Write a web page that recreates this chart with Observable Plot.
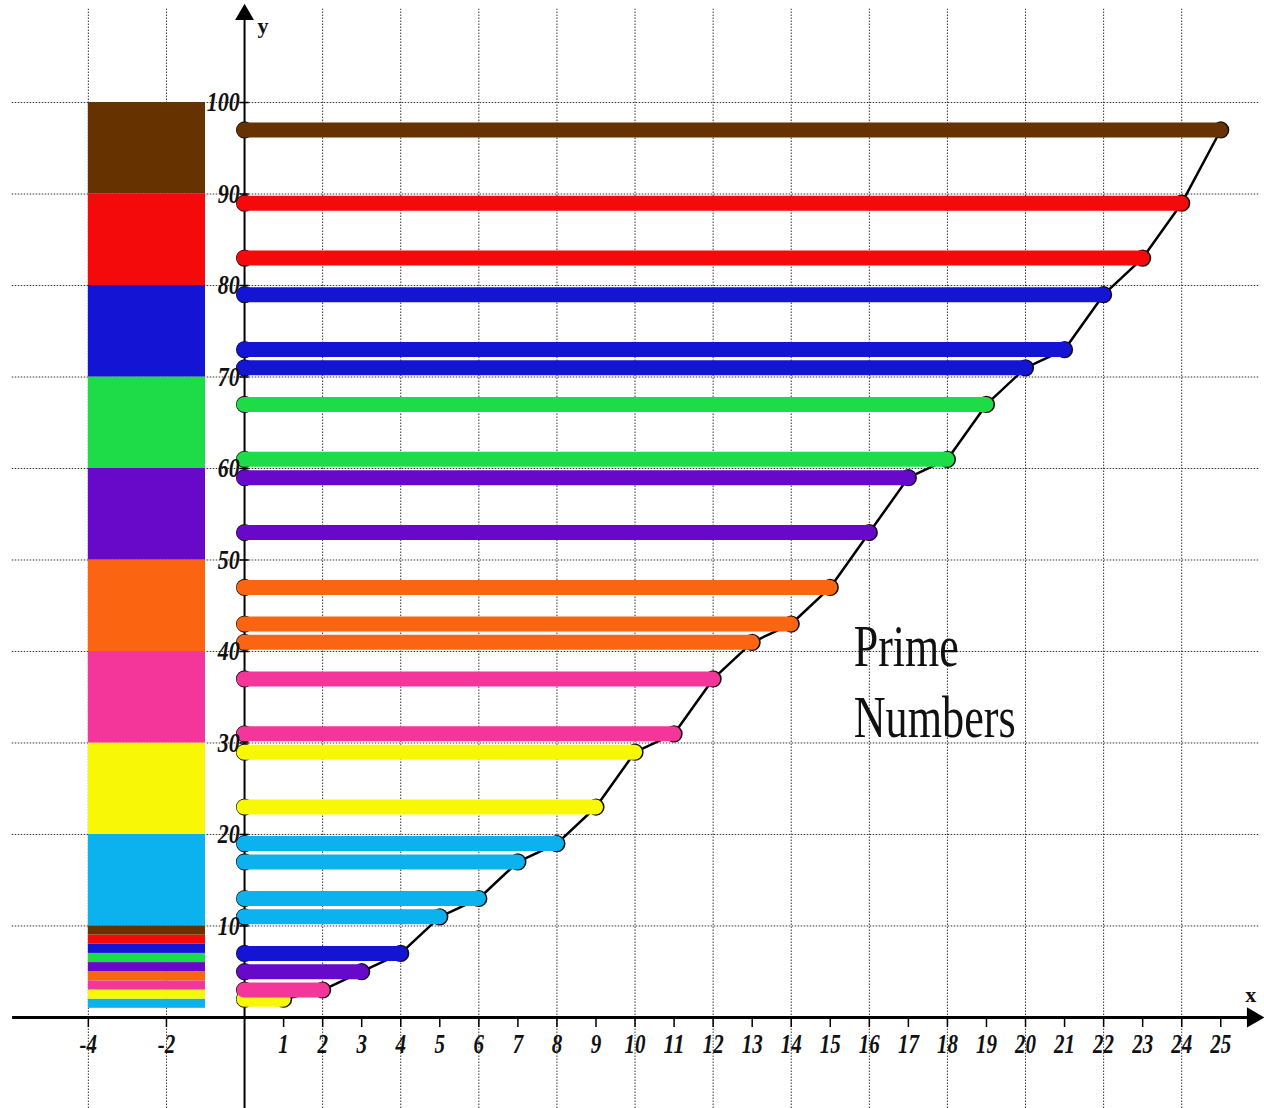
<!DOCTYPE html>
<html>
<head>
<meta charset="utf-8">
<script src="https://cdn.jsdelivr.net/npm/d3@7"></script>
<script src="https://cdn.jsdelivr.net/npm/@observablehq/plot@0.6"></script>
<style>
  html, body { margin: 0; padding: 0; background: #fff; }
</style>
</head>
<body>
<div id="chart"></div>
<script>
// ---- data ----
const primes = [2,3,5,7,11,13,17,19,23,29,31,37,41,43,47,53,59,61,67,71,73,79,83,89,97];
const ranks = primes.map((p, i) => i + 1);           // position on x
const paletteKeys = [1,2,3,4,5,6,7,8,9];              // colour groups
const palette = ["#0cb2ee","#f8f806","#f4369a","#fb6512","#6808c8","#1edc48","#1414d4","#f40a0a","#663300"];
const decades = [1,2,3,4,5,6,7,8,9];                  // legend blocks 10..100
const units = [1,2,3,4,5,6,7,8,9];                    // legend stripes 1..10
const xTickValues = [-4,-2,1,2,3,4,5,6,7,8,9,10,11,12,13,14,15,16,17,18,19,20,21,22,23,24,25];
const xGrid = [-4,-2,2,4,6,8,10,12,14,16,18,20,22,24];
const yTickValues = [10,20,30,40,50,60,70,80,90,100];
const title = ["Prime", "Numbers"];

const colorOf = k => palette[paletteKeys.indexOf(k)];
const data = primes.map((p, i) => ({n: ranks[i], p, c: colorOf(p < 10 ? p : Math.floor(p / 10))}));
const blocks = decades.map(d => ({y1: d * 10, y2: d * 10 + 10, c: colorOf(d)}));
const stripes = units.map(k => ({y1: k, y2: k + 1, c: colorOf(k)}));

const XMIN = -6.25, XMAX = 26.12, YMIN = -9.95, YMAX = 111.15;
const serif = "Liberation Serif, Times New Roman, serif";

const chart = Plot.plot({
  width: 1264,
  height: 1108,
  margin: 0,
  x: {domain: [XMIN, XMAX], axis: null},
  y: {domain: [YMIN, YMAX], axis: null},
  style: {background: "#fff"},
  marks: [
    // grid
    Plot.ruleY(yTickValues, {y: d => d, x1: -5.95, x2: 26.0, stroke: "#333", strokeWidth: 1, strokeDasharray: "1.5,1.5"}),
    Plot.ruleX(xGrid, {x: d => d, y1: YMIN, y2: 110.2, stroke: "#333", strokeWidth: 1, strokeDasharray: "1.5,1.5"}),
    // legend column
    Plot.rect(blocks, {x1: -4, x2: -1, y1: "y1", y2: "y2", fill: "c"}),
    Plot.rect(stripes, {x1: -4, x2: -1, y1: "y1", y2: "y2", fill: "c"}),
    // axes
    Plot.ruleY([0], {x1: -5.94, x2: 25.75, stroke: "#000", strokeWidth: 3}),
    Plot.ruleX([0], {y1: YMIN, y2: 109.3, stroke: "#000", strokeWidth: 2}),
    Plot.dot([0], {x: 25.82, y: 0, symbol: "triangle", rotate: 90, r: 7.5, fill: "#000"}),
    Plot.dot([0], {x: 0, y: 109.6, symbol: "triangle", r: 7, fill: "#000"}),
    Plot.ruleX(xTickValues, {x: d => d, y1: 0, y2: -1.1, stroke: "#000", strokeWidth: 1.5}),
    Plot.ruleY(yTickValues, {y: d => d, x1: -0.12, x2: 0.12, stroke: "#000", strokeWidth: 1.5}),
    // bars: dark-rimmed round ends, then the bar over them
    Plot.line(data, {x: "n", y: "p", stroke: "#000", strokeWidth: 2.5}),
    Plot.dot(data, {x: 0, y: "p", r: 7.6, fill: "c", stroke: "#111", strokeWidth: 2}),
    Plot.dot(data, {x: "n", y: "p", r: 7.6, fill: "c", stroke: "#111", strokeWidth: 2}),
    Plot.ruleY(data, {y: "p", x1: 0, x2: "n", stroke: "c", strokeWidth: 15, strokeLinecap: "round"}),
    // tick labels
    Plot.text(xTickValues, {x: d => d, y: -3.83, text: d => String(d), lineAnchor: "bottom", textAnchor: "middle",
      fontFamily: serif, fontStyle: "italic", fontWeight: "bold", fontSize: 28, fill: "#111"}),
    Plot.text(yTickValues, {x: -0.12, y: d => d, text: d => String(d), lineAnchor: "middle", textAnchor: "end",
      fontFamily: serif, fontStyle: "italic", fontWeight: "bold", fontSize: 27, fill: "#111"}),
    Plot.text(["x"], {x: 25.77, y: 2.5, text: d => d, fontFamily: serif, fontWeight: "bold", fontSize: 22, fill: "#111"}),
    Plot.text(["y"], {x: 0.47, y: 108.4, text: d => d, fontFamily: serif, fontWeight: "bold", fontSize: 22, fill: "#111"}),
    // title
    Plot.text([title[0]], {x: 15.6, y: 38.45, text: d => d, textAnchor: "start", lineAnchor: "bottom",
      fontFamily: serif, fontSize: 60, fill: "#111"}),
    Plot.text([title[1]], {x: 15.6, y: 30.6, text: d => d, textAnchor: "start", lineAnchor: "bottom",
      fontFamily: serif, fontSize: 60, fill: "#111"})
  ]
});

document.getElementById("chart").appendChild(chart);

// condense glyphs to match the narrow lettering of the original
const widths = {Prime: 105, Numbers: 162};
d3.select(chart).selectAll("text").each(function () {
  const t = this.textContent;
  const fs = this.parentNode.getAttribute("font-size");
  let w = null;
  if (widths[t]) w = widths[t];
  else if (fs === "28") w = t.replace("-", "").length * 10.5 + (t.includes("-") ? 7 : 0);
  else if (fs === "27") w = t.length * 11;
  if (w) {
    this.setAttribute("textLength", w);
    this.setAttribute("lengthAdjust", "spacingAndGlyphs");
  }
});
</script>
</body>
</html>
